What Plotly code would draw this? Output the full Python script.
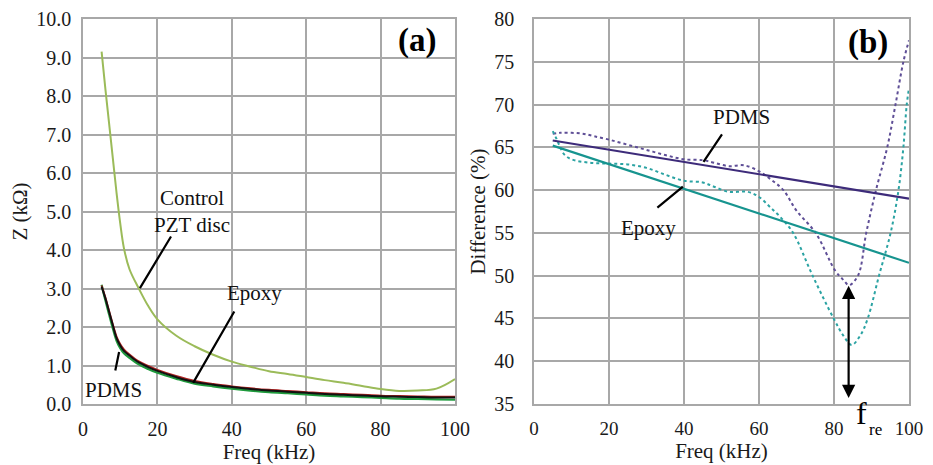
import plotly.graph_objects as go

# ---------------- Panel (a) data ----------------
freq_a = [5, 6, 7, 8, 9, 10, 11, 12.5, 15, 17.5, 20, 25, 30, 35, 40, 45, 50, 55,
          60, 65, 70, 75, 80, 85, 90, 95, 100]
z_control = [9.15, 8.2, 7.3, 6.4, 5.5, 4.7, 4.05, 3.5, 3.0, 2.55, 2.2, 1.78, 1.5,
             1.28, 1.1, 0.97, 0.85, 0.78, 0.70, 0.62, 0.55, 0.47, 0.39, 0.34, 0.35,
             0.40, 0.65]
z_epoxy = [3.08, 2.78, 2.43, 2.08, 1.76, 1.56, 1.42, 1.29, 1.11, 0.99, 0.89, 0.73,
           0.60, 0.52, 0.46, 0.41, 0.37, 0.34, 0.31, 0.28, 0.26, 0.24, 0.22, 0.21,
           0.20, 0.19, 0.19]
z_black = [3.05, 2.75, 2.40, 2.05, 1.72, 1.52, 1.38, 1.26, 1.08, 0.96, 0.86, 0.70,
           0.57, 0.50, 0.44, 0.39, 0.35, 0.32, 0.29, 0.26, 0.24, 0.22, 0.20, 0.19,
           0.18, 0.17, 0.17]
z_pdms = [3.10, 2.70, 2.33, 1.97, 1.65, 1.45, 1.32, 1.20, 1.03, 0.91, 0.81, 0.66,
          0.53, 0.46, 0.40, 0.35, 0.31, 0.28, 0.25, 0.22, 0.20, 0.18, 0.16, 0.14,
          0.13, 0.12, 0.11]

# ---------------- Panel (b) data ----------------
freq_pdms_b = [5, 7, 10, 13, 16, 20, 25, 30, 35, 40, 45, 48, 52, 56, 60, 63, 66.5,
               70, 75.1, 80.3, 82.5, 84, 86.4, 88.6, 91.2, 94.2, 96.4, 98.5, 100]
diff_pdms = [66.6, 66.7, 66.7, 66.6, 66.3, 65.9, 65.3, 64.7, 64.1, 63.6, 63.5, 63.2,
             62.8, 62.9, 62.2, 61.3, 60.0, 57.6, 55.0, 50.6, 49.5, 48.9, 50.0, 55.0,
             60.0, 65.0, 70.0, 75.0, 77.5]
freq_epoxy_b = [5, 6, 7, 8, 10, 15, 20, 25, 30, 35, 40, 45, 48, 52, 57, 60, 63, 66,
                69.1, 74.3, 79.9, 82.5, 84.7, 87, 89, 92, 95.1, 97.2, 98.5, 99.4, 100]
diff_epoxy = [66.9, 66.0, 65.0, 64.2, 63.6, 63.2, 63.1, 63.0, 62.6, 61.8, 61.1, 60.9,
              60.4, 59.8, 59.8, 59.2, 58.0, 56.7, 55.0, 50.0, 45.0, 43.0, 41.9, 43.0,
              45.0, 50.0, 55.0, 60.0, 65.0, 70.0, 71.9]
trend_x = [5, 100]
trend_pdms = [65.8, 59.0]
trend_epoxy = [65.2, 51.5]

x_ticks = [0, 20, 40, 60, 80, 100]
y_ticks_a = [0, 1, 2, 3, 4, 5, 6, 7, 8, 9, 10]
y_ticks_b = [35, 40, 45, 50, 55, 60, 65, 70, 75, 80]

FONT = "Liberation Serif, Times New Roman, serif"
GRID = "#A8A8A8"
TXT = "#1a1a1a"

fig = go.Figure()

# panel (a)
fig.add_trace(go.Scatter(x=freq_a, y=z_control, mode="lines", name="Control PZT disc",
                         line=dict(color="#9BBB59", width=2, shape="spline"),
                         xaxis="x", yaxis="y"))
fig.add_trace(go.Scatter(x=freq_a, y=z_pdms, mode="lines", name="PDMS",
                         line=dict(color="#1E9A3C", width=2.2, shape="spline"),
                         xaxis="x", yaxis="y"))
fig.add_trace(go.Scatter(x=freq_a, y=z_epoxy, mode="lines", name="Epoxy",
                         line=dict(color="#B22222", width=1.8, shape="spline"),
                         xaxis="x", yaxis="y"))
fig.add_trace(go.Scatter(x=freq_a, y=z_black, mode="lines", name="Epoxy (mean)",
                         line=dict(color="#111111", width=2, shape="spline"),
                         xaxis="x", yaxis="y"))

# panel (b)
fig.add_trace(go.Scatter(x=freq_pdms_b, y=diff_pdms, mode="lines", name="PDMS",
                         line=dict(color="#5E4E96", width=2, dash="dot", shape="spline"),
                         xaxis="x2", yaxis="y2"))
fig.add_trace(go.Scatter(x=freq_epoxy_b, y=diff_epoxy, mode="lines", name="Epoxy",
                         line=dict(color="#2BA3A3", width=2, dash="dot", shape="spline"),
                         xaxis="x2", yaxis="y2"))
fig.add_trace(go.Scatter(x=trend_x, y=trend_pdms, mode="lines", name="PDMS trend",
                         line=dict(color="#3D2B7A", width=2.2), xaxis="x2", yaxis="y2"))
fig.add_trace(go.Scatter(x=trend_x, y=trend_epoxy, mode="lines", name="Epoxy trend",
                         line=dict(color="#17948F", width=2.2), xaxis="x2", yaxis="y2"))

axis_common = dict(showgrid=True, gridcolor=GRID, gridwidth=1.5, showline=True,
                   linecolor=GRID, linewidth=1.5, mirror=True, zeroline=False,
                   automargin=False, ticklabeloverflow="allow", ticks="")
tick_font = dict(family=FONT, size=20, color=TXT)
title_font = dict(family=FONT, size=21, color=TXT)

# page body adds an 8px offset, so the figure is sized to fit inside the window
fig.update_layout(
    width=925, height=457,
    margin=dict(l=75, r=24, t=11, b=61),
    paper_bgcolor="white", plot_bgcolor="white",
    showlegend=False,
    font=dict(family=FONT, color=TXT),
    xaxis=dict(domain=[0, 0.4504], range=[0, 100], tickvals=x_ticks,
               ticklabelstandoff=6, tickfont=tick_font,
               title=dict(text="Freq (kHz)", font=title_font, standoff=6),
               anchor="y", **axis_common),
    yaxis=dict(domain=[0, 1], range=[0, 10], tickvals=y_ticks_a,
               tickformat=".1f", ticklabelstandoff=6, tickfont=tick_font,
               title=dict(text="Z (kΩ)", font=title_font, standoff=14),
               anchor="x", **axis_common),
    xaxis2=dict(domain=[0.546, 1.0], range=[0, 100], tickvals=x_ticks,
                ticklabelstandoff=6, tickfont=dict(family=FONT, size=19, color=TXT),
                title=dict(text="Freq (kHz)", font=title_font, standoff=6),
                anchor="y2", **axis_common),
    yaxis2=dict(domain=[0, 1], range=[35, 80], tickvals=y_ticks_b,
                ticklabelstandoff=14, tickfont=tick_font,
                title=dict(text="Difference (%)", font=title_font, standoff=3),
                anchor="x2", **axis_common),
)

lab = dict(family=FONT, size=21, color="#111111")

# leader lines (no arrowheads)
leaders = [
    ("x", "y", 15.3, 3.01, 23.9, 4.39),
    ("x", "y", 29.6, 0.55, 40.9, 2.44),
    ("x", "y", 9.7, 1.35, 8.6, 0.83),
    ("x2", "y2", 45.2, 63.3, 50.4, 66.7),
    ("x2", "y2", 39.7, 60.4, 32.5, 57.8),
]
for xr, yr, x0, y0, x1, y1 in leaders:
    fig.add_annotation(x=x0, y=y0, ax=x1, ay=y1, xref=xr, yref=yr, axref=xr, ayref=yr,
                       showarrow=True, arrowhead=0, arrowwidth=2.2, arrowcolor="#000000",
                       text="")

# labels
fig.add_annotation(x=29.3, y=5.0, xref="x", yref="y", text="Control<br>PZT disc",
                   showarrow=False, font=lab)
fig.add_annotation(x=46.2, y=2.88, xref="x", yref="y", text="Epoxy", showarrow=False, font=lab)
fig.add_annotation(x=8.1, y=0.36, xref="x", yref="y", text="PDMS", showarrow=False, font=lab)
fig.add_annotation(x=89.8, y=9.45, xref="x", yref="y", text="<b>(a)</b>", showarrow=False,
                   font=dict(family=FONT, size=33, color="#000000"))

fig.add_annotation(x=55.3, y=68.5, xref="x2", yref="y2", text="PDMS", showarrow=False, font=lab)
fig.add_annotation(x=30.6, y=55.6, xref="x2", yref="y2", text="Epoxy", showarrow=False, font=lab)
fig.add_annotation(x=89.1, y=77.3, xref="x2", yref="y2", text="<b>(b)</b>", showarrow=False,
                   font=dict(family=FONT, size=33, color="#000000"))

# double-headed arrow at resonance
fig.add_annotation(x=83.9, y=35.7, ax=83.9, ay=49.0, xref="x2", yref="y2", axref="x2",
                   ayref="y2", showarrow=True, arrowhead=2, startarrowhead=2,
                   arrowside="end+start", arrowsize=1.2, arrowwidth=2.2,
                   arrowcolor="#000000", text="")
fig.add_annotation(x=87.3, y=-0.075, xref="x2", yref="paper", text="f", showarrow=False,
                   font=dict(family=FONT, size=32, color="#000000"))
fig.add_annotation(x=91.0, y=-0.095, xref="x2", yref="paper", text="re", showarrow=False,
                   font=dict(family=FONT, size=17, color="#000000"))

fig.write_html("out.html")
